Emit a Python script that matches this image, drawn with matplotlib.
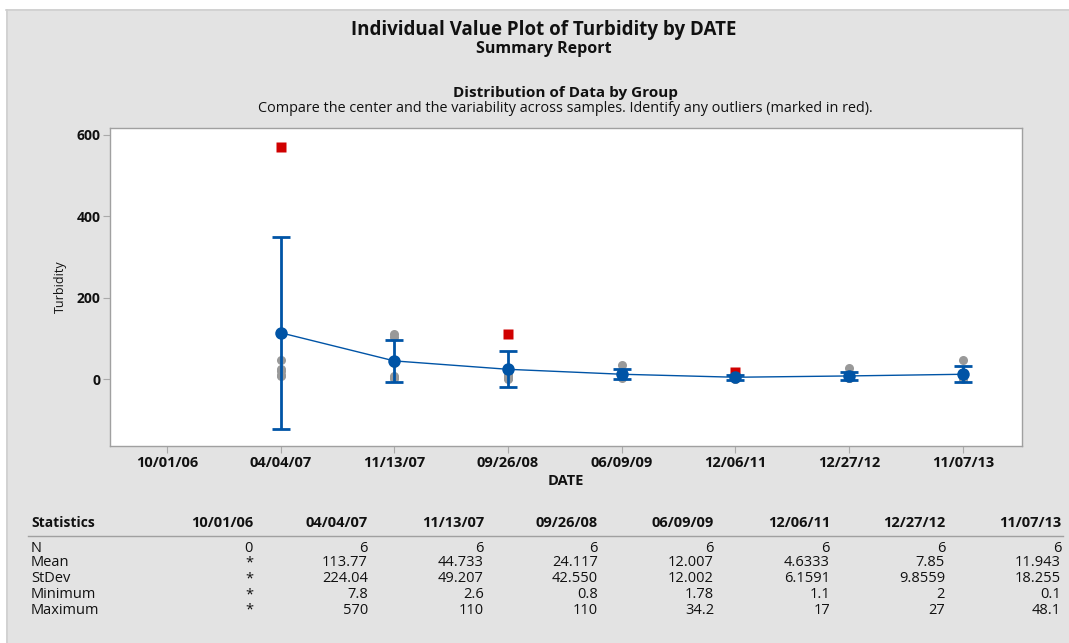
import matplotlib
matplotlib.use("Agg")
import matplotlib.pyplot as plt
from matplotlib.patches import Rectangle
from matplotlib.lines import Line2D

plt.rcParams['font.family'] = ['Open Sans', 'DejaVu Sans']

W, H = 1069, 643
dates = ["10/01/06", "04/04/07", "11/13/07", "09/26/08", "06/09/09", "12/06/11", "12/27/12", "11/07/13"]

# individual (non-outlier) values
values = [
    [],
    [48, 26, 20, 11, 7.8],
    [110, 104, 39.8, 8, 4, 2.6],
    [15.9, 10, 5, 3, 0.8],
    [34.2, 13.06, 10, 8, 5, 1.78],
    [3.7, 2.5, 2, 1.5, 1.1],
    [27, 6.1, 5, 4, 3, 2],
    [48.1, 9.46, 7, 5, 2, 0.1],
]
# outliers (red squares)
outliers = [[], [570], [], [110], [], [17], [], []]

means = [None, 113.77, 44.733, 24.117, 12.007, 4.6333, 7.85, 11.943]
ci_low = [None, -121.4, -6.9, -20.5, -0.6, -1.8, -2.5, -7.2]
ci_high = [None, 348.9, 96.4, 68.8, 24.6, 11.1, 18.2, 31.1]

stat_names = ["N", "Mean", "StDev", "Minimum", "Maximum"]
stat_table = {
    "10/01/06": ["0", "*", "*", "*", "*"],
    "04/04/07": ["6", "113.77", "224.04", "7.8", "570"],
    "11/13/07": ["6", "44.733", "49.207", "2.6", "110"],
    "09/26/08": ["6", "24.117", "42.550", "0.8", "110"],
    "06/09/09": ["6", "12.007", "12.002", "1.78", "34.2"],
    "12/06/11": ["6", "4.6333", "6.1591", "1.1", "17"],
    "12/27/12": ["6", "7.85", "9.8559", "2", "27"],
    "11/07/13": ["6", "11.943", "18.255", "0.1", "48.1"],
}

BG = "#e3e3e3"
BLUE = "#0054a6"
GRAY = "#999999"
RED = "#d00000"
TXT = "#111111"

fig = plt.figure(figsize=(W / 100, H / 100), dpi=100)
fig.patch.set_facecolor(BG)

def fx(px):
    return px / W

def fy(py):
    return 1 - py / H

# white margins and thin border (drawn beneath axes)
fig.patches.append(Rectangle((0, fy(9)), 1, 1 - fy(9), transform=fig.transFigure,
                             facecolor="white", edgecolor="none", zorder=-10))
fig.patches.append(Rectangle((0, 0), fx(6), 1, transform=fig.transFigure,
                             facecolor="white", edgecolor="none", zorder=-10))
fig.lines.append(Line2D([fx(6), 1], [fy(9.5), fy(9.5)], transform=fig.transFigure, color="#cfcfcf", lw=1.2, zorder=-5))
fig.lines.append(Line2D([fx(6.5), fx(6.5)], [0, fy(9.5)], transform=fig.transFigure, color="#cfcfcf", lw=1.2, zorder=-5))

# titles
cx = 0.5 * (347 + 740) / W
fig.text(cx, fy(30), "Individual Value Plot of Turbidity by DATE", ha="center", va="center",
         fontsize=13.5, fontweight="bold", color=TXT)
fig.text(cx, fy(49), "Summary Report", ha="center", va="center",
         fontsize=11.5, fontweight="bold", color=TXT)
fig.text(fx(565), fy(93), "Distribution of Data by Group", ha="center", va="center",
         fontsize=11, fontweight="bold", color=TXT)
fig.text(fx(565), fy(109), "Compare the center and the variability across samples. Identify any outliers (marked in red).",
         ha="center", va="center", fontsize=10.4, color=TXT)

# axes
ax_l, ax_r, ax_t, ax_b = 110, 1022, 128, 446
ax = fig.add_axes([fx(ax_l), fy(ax_b), (ax_r - ax_l) / W, (ax_b - ax_t) / H])
ax.set_facecolor("white")
x = list(range(len(dates)))

for i in x:
    if values[i]:
        ax.plot([i] * len(values[i]), values[i], "o", color=GRAY, ms=6.5, mec="none", zorder=2)
    if outliers[i]:
        ax.plot([i] * len(outliers[i]), outliers[i], "s", color=RED, ms=7, mec="none", zorder=2)

mx = [i for i in x if means[i] is not None]
my = [means[i] for i in mx]
ax.plot(mx, my, "-", color=BLUE, lw=1.0, zorder=3)
for i in mx:
    ax.errorbar([i], [means[i]], yerr=[[means[i] - ci_low[i]], [ci_high[i] - means[i]]],
                fmt="none", ecolor=BLUE, elinewidth=2, capsize=6.3, capthick=2, zorder=4)
ax.plot(mx, my, "o", color=BLUE, ms=9, mec="none", zorder=5)

ax.set_xlim(-0.5, 7.52)
ax.set_ylim(-164, 616)
ax.set_xticks(x)
ax.set_xticklabels(dates, fontsize=10.5, fontweight="bold", color=TXT)
ax.set_yticks([0, 200, 400, 600])
ax.set_yticklabels(["0", "200", "400", "600"], fontsize=10, fontweight="bold", color=TXT)
ax.tick_params(axis="both", length=5, width=0.8, color="#aaaaaa", pad=2)
for s in ax.spines.values():
    s.set_color("#a0a0a0")
    s.set_linewidth(1)
ax.set_xlabel("DATE", fontsize=10.5, fontweight="bold", color=TXT, labelpad=3)
ax.set_ylabel("Turbidity", fontsize=9, color=TXT, labelpad=7)

# statistics table
TS = 10.5
col_right = [253, 368, 484, 598, 714, 830, 945, 1061]
fig.text(fx(31), fy(523), "Statistics", ha="left", va="center", fontsize=10, fontweight="bold", color=TXT)
for d, xr in zip(dates, col_right):
    fig.text(fx(xr), fy(523), d, ha="right", va="center", fontsize=TS, fontweight="bold", color=TXT)
fig.lines.append(Line2D([fx(28), fx(1063)], [fy(536), fy(536)], transform=fig.transFigure, color="#a0a0a0", lw=1))
row_y = [548, 563, 579, 595, 610]
for name, yy in zip(stat_names, row_y):
    fig.text(fx(31), fy(yy), name, ha="left", va="center", fontsize=TS, color=TXT)
for d, xr in zip(dates, col_right):
    for val, yy in zip(stat_table[d], row_y):
        fig.text(fx(xr), fy(yy), val, ha="right", va="center", fontsize=TS, color=TXT)

fig.savefig("out.png", dpi=100, facecolor=fig.get_facecolor())
